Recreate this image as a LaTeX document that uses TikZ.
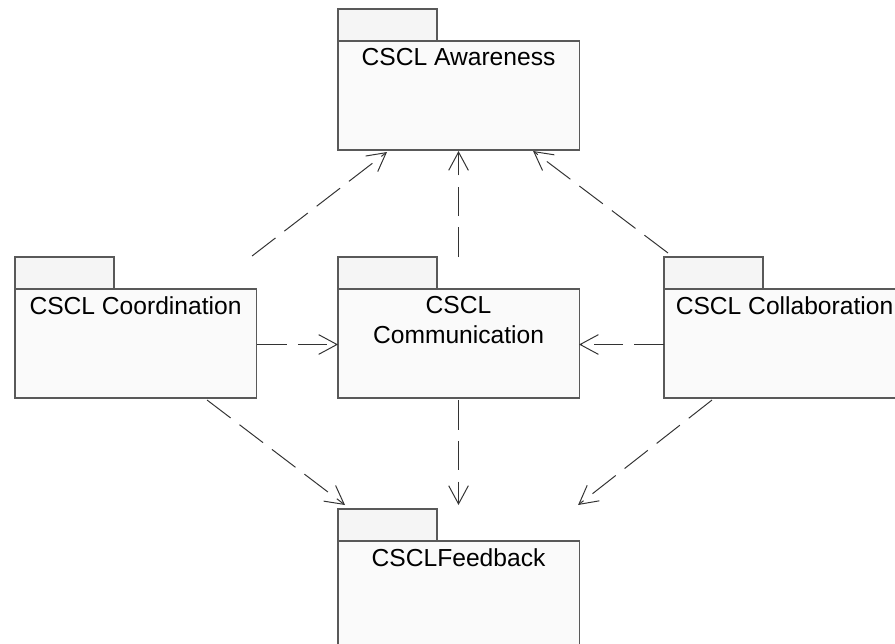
\documentclass[tikz,border=0pt]{standalone}
\usepackage{fontspec}
\setmainfont{Liberation Sans}
\usetikzlibrary{arrows.meta, positioning, calc}

\begin{document}
\begin{tikzpicture}[
  x=0.025cm, y=-0.025cm,
  pkg/.style={rectangle, draw=black!65, line width=0.8pt, fill=black!2, outer sep=0pt, inner sep=0pt, minimum width=6.025cm, minimum height=2.725cm, anchor=north west},
  pkgtab/.style={rectangle, draw=black!65, line width=0.8pt, fill=black!4, outer sep=0pt, inner sep=0pt, minimum width=2.475cm, minimum height=0.8cm},
  pkgtitle/.style={font=\fontsize{17.5}{21}\selectfont, align=center, inner sep=1pt},
  dep/.style={-{Straight Barb[length=13pt, width=14pt]}, draw=black!80, line width=0.7pt, dash pattern=on 21pt off 8pt}
]
  \useasboundingbox (0,0) rectangle (895,644);
  \clip (0,0) rectangle (895,644);

  % package bodies
  \node[pkg] (aware) at (338,41) {};
  \node[pkg] (coord) at (15,289) {};
  \node[pkg] (comm) at (338,289) {};
  \node[pkg] (collab) at (664,289) {};
  \node[pkg] (feed) at (338,541) {};

  % package tabs
  \node[pkgtab, above right=0pt of aware.north west] (awaretab) {};
  \node[pkgtab, above right=0pt of coord.north west] (coordtab) {};
  \node[pkgtab, above right=0pt of comm.north west] (commtab) {};
  \node[pkgtab, above right=0pt of collab.north west] (collabtab) {};
  \node[pkgtab, above right=0pt of feed.north west] (feedtab) {};

  % package names
  \node[pkgtitle, below=4pt of aware.north] (awaretitle) {CSCL Awareness};
  \node[pkgtitle, below=4pt of coord.north] (coordtitle) {CSCL Coordination};
  \node[pkgtitle, below=4pt of comm.north] (commtitle) {CSCL\\Communication};
  \node[pkgtitle, below=4pt of collab.north] (collabtitle) {CSCL Collaboration};
  \node[pkgtitle, below=4pt of feed.north] (feedtitle) {CSCLFeedback};

  % dependencies on Awareness
  \draw[dep] ($(coord.north east)+(-4,-33)$) -- ($(aware.south west)+(49,2)$);
  \draw[dep] ($(comm.north)+(0,-32)$) -- ($(aware.south)+(0,1)$);
  \draw[dep] ($(collab.north west)+(4,-36)$) -- ($(aware.south east)+(-46,1)$);

  % dependencies on Communication
  \draw[dep] ($(coord.east)+(1,1)$) -- ($(comm.west)+(0,1)$);
  \draw[dep] ($(collab.west)+(0,1)$) -- ($(comm.east)+(0,1)$);

  % dependencies on Feedback
  \draw[dep] ($(coord.south east)+(-49,2)$) -- ($(feed.north west)+(7,-36)$);
  \draw[dep] ($(comm.south)+(0,2)$) -- ($(feed.north)+(0,-36)$);
  \draw[dep] ($(collab.south west)+(48,2)$) -- ($(feed.north east)+(-1,-36)$);
\end{tikzpicture}
\end{document}
